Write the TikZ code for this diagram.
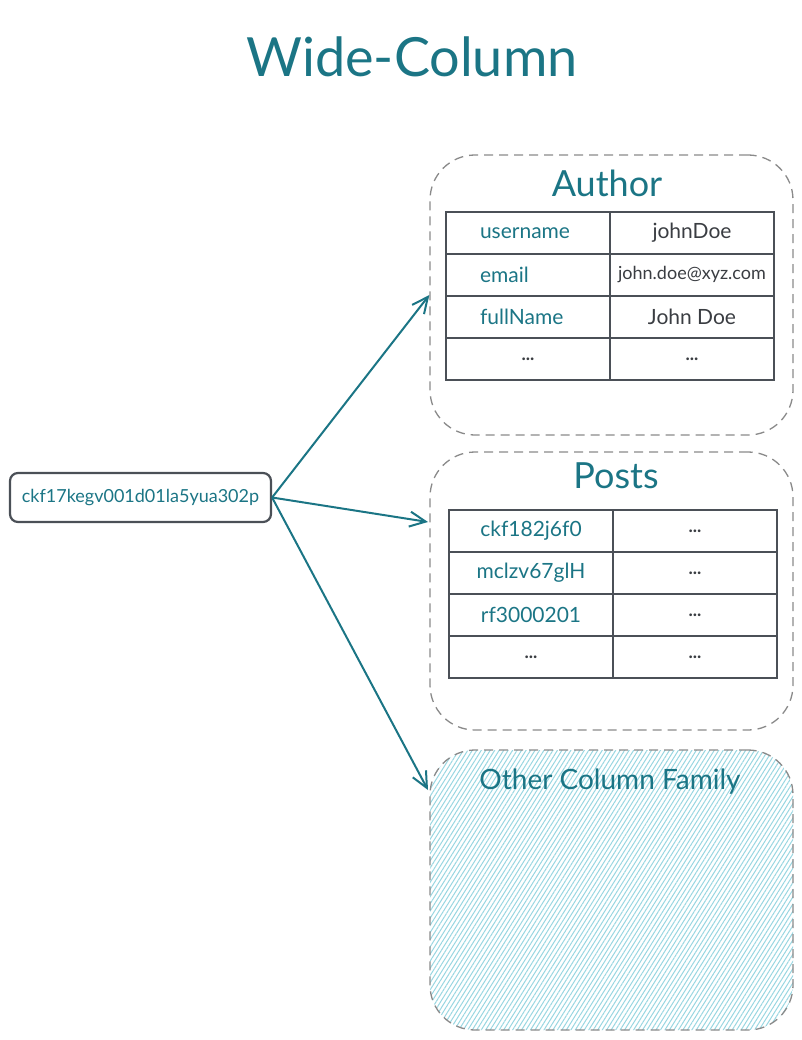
\documentclass[tikz,border=0pt]{standalone}
\usepackage{fontspec}
\setmainfont{Lato}
\usetikzlibrary{patterns.meta,arrows.meta}
\definecolor{tealtxt}{HTML}{1B7585}
\definecolor{tline}{HTML}{4B5057}
\definecolor{vgray}{HTML}{3A3D42}
\definecolor{dgray}{HTML}{8A8A8A}
\definecolor{hatch}{HTML}{98D6E1}
\begin{document}
\begin{tikzpicture}[x=1pt,y=-1pt,
  cell/.style={draw=tline, line width=2.8pt, minimum height=42pt, minimum width=164pt, inner sep=0pt, font=\fontsize{21}{21}\selectfont},
  keycell/.style={cell, text=tealtxt},
  valcell/.style={cell, text=vgray},
  dotcell/.style={cell, text=vgray, font=\bfseries\fontsize{18}{18}\selectfont},
  family/.style={draw=dgray, dash pattern=on 9pt off 6pt, line width=1.3pt, rounded corners=45pt, minimum width=363pt, minimum height=280pt, inner sep=0pt},
  famtitle/.style={text=tealtxt, font=\fontsize{36}{36}\selectfont, inner sep=0pt},
  arr/.style={draw=tealtxt, line width=2pt, -{Straight Barb[length=16pt,width=15pt]}}]
\useasboundingbox (0,0) rectangle (802,1040);
% title
\node[text=tealtxt, font=\fontsize{54}{54}\selectfont, inner sep=0pt] (title) at (412,57) {Wide-Column};
% families
\node[family] (author) at (611.5,295) {};
\node[family, minimum height=278pt] (posts) at (611.5,591) {};
\node[family, pattern={Lines[angle=58,distance=3.8pt,line width=1pt]}, pattern color=hatch] (other) at (611.5,890) {};
\node[famtitle] (authort) at (607,183) {Author};
\node[famtitle] (postst) at (616,476) {Posts};
\node[famtitle, font=\fontsize{28}{28}\selectfont] (othert) at (610,782) {Other Column Family};
% author table
\node[keycell, text width=96pt, align=left] (a1k) at (528,233) {username};
\node[valcell] (a1v) at (692,233) {johnDoe};
\node[keycell, text width=96pt, align=left] (a2k) at (528,275) {email};
\node[valcell, font=\fontsize{18}{18}\selectfont] (a2v) at (692,275) {john.doe@xyz.com};
\node[keycell, text width=96pt, align=left] (a3k) at (528,317) {fullName};
\node[valcell] (a3v) at (692,317) {John Doe};
\node[dotcell] (a4k) at (528,359) {...};
\node[dotcell] (a4v) at (692,359) {...};
% posts table
\node[keycell] (p1k) at (531,531) {ckf182j6f0};
\node[dotcell] (p1v) at (695,531) {...};
\node[keycell] (p2k) at (531,573) {mclzv67glH};
\node[dotcell] (p2v) at (695,573) {...};
\node[keycell] (p3k) at (531,615) {rf3000201};
\node[dotcell] (p3v) at (695,615) {...};
\node[dotcell] (p4k) at (531,657) {...};
\node[dotcell] (p4v) at (695,657) {...};
% key
\node[draw=tline, line width=2.2pt, rounded corners=8pt, minimum width=261pt, minimum height=49pt, inner sep=0pt, text=tealtxt, font=\fontsize{18}{18}\selectfont] (key) at (140.5,497.5) {ckf17kegv001d01la5yua302p};
% arrow ends
\coordinate (pend) at (428,522);
\coordinate (oend) at (428,790);
\draw[arr] (key.east) -- (author.west);
\draw[arr] (key.east) -- (pend);
\draw[arr] (key.east) -- (oend);
\end{tikzpicture}
\end{document}
